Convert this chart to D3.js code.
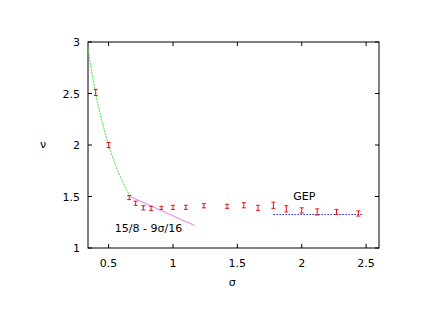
<!DOCTYPE html>
<html>
<head>
<meta charset="utf-8">
<script src="https://cdn.jsdelivr.net/npm/d3@7"></script>
<style>
  body { margin: 0; background: #fff; }
  text { font-family: "DejaVu Sans", sans-serif; font-size: 11px; fill: #000; }
</style>
</head>
<body>
<script>
// measured points (sigma, nu, error)
var sigma = [0.40, 0.50, 0.66, 0.71, 0.77, 0.83, 0.91, 1.00, 1.10, 1.24, 1.42, 1.55, 1.66, 1.78, 1.88, 2.00, 2.12, 2.27, 2.44];
var nu    = [2.51, 2.00, 1.49, 1.435, 1.39, 1.385, 1.39, 1.395, 1.395, 1.41, 1.405, 1.415, 1.39, 1.415, 1.38, 1.365, 1.35, 1.35, 1.335];
var nuErr = [0.03, 0.025, 0.02, 0.02, 0.02, 0.02, 0.015, 0.02, 0.02, 0.02, 0.02, 0.025, 0.025, 0.03, 0.03, 0.025, 0.03, 0.025, 0.025];

var xTicks = [0.5, 1, 1.5, 2, 2.5];
var yTicks = [1, 1.5, 2, 2.5, 3];

// curves
var greenRange = [0.34, 2 / 3];      // nu = 1/sigma
var magentaRange = [2 / 3, 1.17];    // nu = 15/8 - 9 sigma/16
var gepRange = [1.78, 2.48];
var gepValue = 4 / 3;

var width = 440, height = 311;
var margin = {left: 88, right: 61, top: 42, bottom: 63};
var w = width - margin.left - margin.right,
    h = height - margin.top - margin.bottom;

var svg = d3.select("body").append("svg")
    .attr("width", width)
    .attr("height", height);

var g = svg.append("g")
    .attr("transform", "translate(" + margin.left + "," + margin.top + ")");

var x = d3.scaleLinear().domain([0.34, 2.6]).range([0, w]);
var y = d3.scaleLinear().domain([1, 3]).range([h, 0]);

// frame
g.append("rect").attr("width", w).attr("height", h)
    .attr("fill", "none").attr("stroke", "#000").attr("stroke-width", 1);

// ticks, inward and mirrored like gnuplot
var tl = 4;
g.append("g").selectAll("line").data(xTicks).enter().append("line")
    .attr("x1", function(d) { return x(d); }).attr("x2", function(d) { return x(d); })
    .attr("y1", h).attr("y2", h - tl).attr("stroke", "#000");
g.append("g").selectAll("line").data(xTicks).enter().append("line")
    .attr("x1", function(d) { return x(d); }).attr("x2", function(d) { return x(d); })
    .attr("y1", 0).attr("y2", tl).attr("stroke", "#000");
g.append("g").selectAll("line").data(yTicks).enter().append("line")
    .attr("x1", 0).attr("x2", tl)
    .attr("y1", function(d) { return y(d); }).attr("y2", function(d) { return y(d); })
    .attr("stroke", "#000");
g.append("g").selectAll("line").data(yTicks).enter().append("line")
    .attr("x1", w).attr("x2", w - tl)
    .attr("y1", function(d) { return y(d); }).attr("y2", function(d) { return y(d); })
    .attr("stroke", "#000");

// tick labels
g.append("g").selectAll("text").data(xTicks).enter().append("text")
    .attr("x", function(d) { return x(d); }).attr("y", h + 19)
    .attr("text-anchor", "middle")
    .text(function(d) { return d; });
g.append("g").selectAll("text").data(yTicks).enter().append("text")
    .attr("x", -8).attr("y", function(d) { return y(d) + 4; })
    .attr("text-anchor", "end")
    .text(function(d) { return d; });

// axis titles
g.append("text").attr("x", x(1.5) - 5).attr("y", h + 38)
    .attr("text-anchor", "middle").text("σ");
g.append("text").attr("x", -45).attr("y", y(2) + 3)
    .attr("text-anchor", "middle").text("ν");

// curves
var line = d3.line().x(function(d) { return x(d[0]); }).y(function(d) { return y(d[1]); });

var greenPts = d3.range(0, 41).map(function(i) {
    var s = greenRange[0] + (greenRange[1] - greenRange[0]) * i / 40;
    return [s, 1 / s];
});
g.append("path").datum(greenPts).attr("d", line)
    .attr("fill", "none").attr("stroke", "#44e044").attr("stroke-width", 1)
    .attr("stroke-dasharray", "2,1");

g.append("path").datum(magentaRange.map(function(s) { return [s, 15 / 8 - 9 * s / 16]; }))
    .attr("d", line)
    .attr("fill", "none").attr("stroke", "#ee77ee").attr("stroke-width", 1);

// GEP level, drawn on a pixel row so the dots stay blue
var gy = Math.round(y(gepValue)) + 0.5;
g.append("line")
    .attr("x1", x(gepRange[0])).attr("x2", x(gepRange[1]))
    .attr("y1", gy).attr("y2", gy)
    .attr("stroke", "#2222ff").attr("stroke-width", 1)
    .attr("stroke-dasharray", "1.5,1.5");

// labels
g.append("text").attr("x", x(0.81)).attr("y", y(1.152)).attr("text-anchor", "middle")
    .text("15/8 - 9σ/16");
g.append("text").attr("x", x(2.02)).attr("y", y(1.466)).attr("text-anchor", "middle")
    .text("GEP");

// error bars
var pts = sigma.map(function(s, i) { return {s: s, v: nu[i], e: nuErr[i]}; });
var eb = g.append("g").selectAll("g").data(pts).enter().append("g")
    .attr("stroke", "#ee1111").attr("stroke-width", 1);
eb.append("line")
    .attr("x1", function(d) { return x(d.s); }).attr("x2", function(d) { return x(d.s); })
    .attr("y1", function(d) { return y(d.v - d.e); }).attr("y2", function(d) { return y(d.v + d.e); });
eb.append("line")
    .attr("x1", function(d) { return x(d.s) - 2; }).attr("x2", function(d) { return x(d.s) + 2; })
    .attr("y1", function(d) { return y(d.v - d.e); }).attr("y2", function(d) { return y(d.v - d.e); });
eb.append("line")
    .attr("x1", function(d) { return x(d.s) - 2; }).attr("x2", function(d) { return x(d.s) + 2; })
    .attr("y1", function(d) { return y(d.v + d.e); }).attr("y2", function(d) { return y(d.v + d.e); });
</script>
</body>
</html>
